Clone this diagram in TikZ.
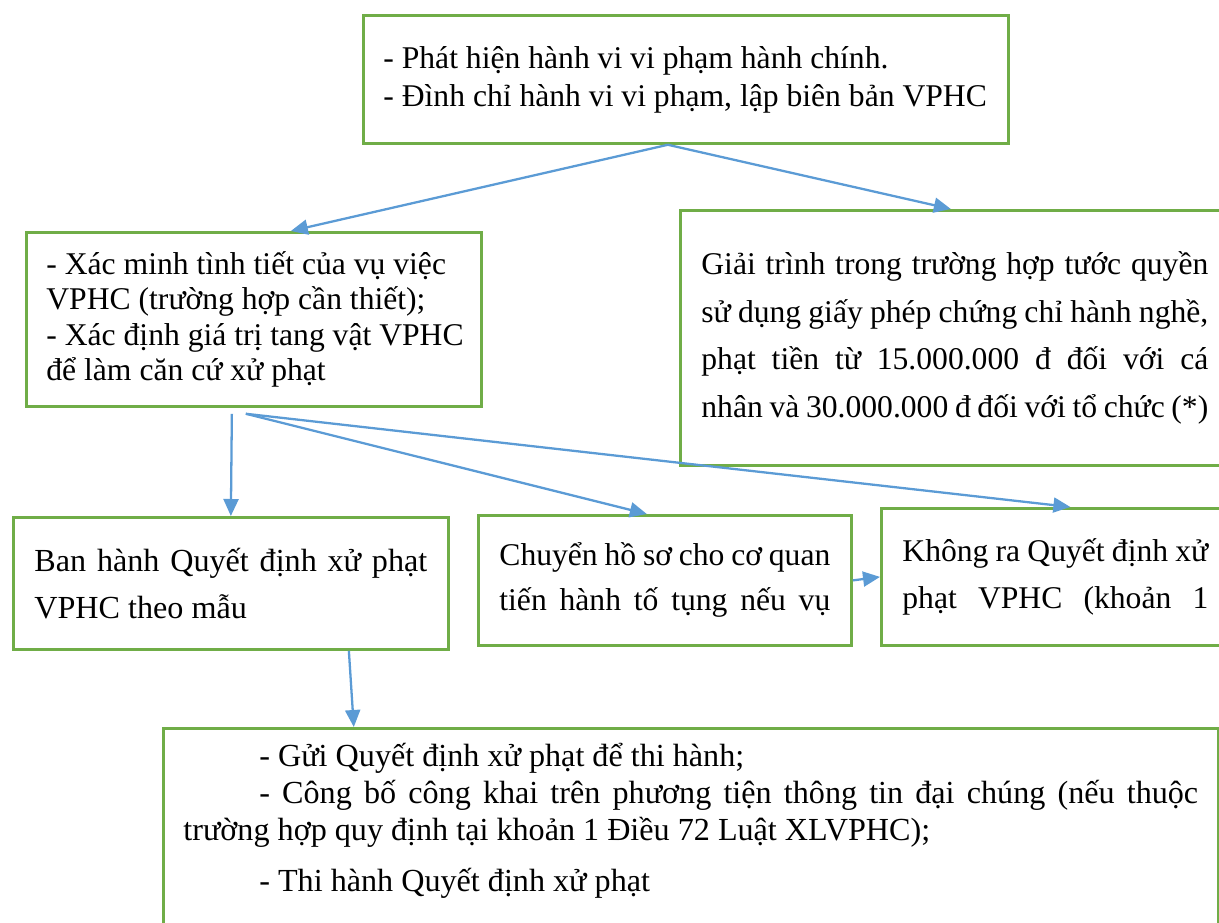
\documentclass[tikz,border=0pt]{standalone}
\usepackage{fontspec}
\setmainfont{Liberation Serif}
\usetikzlibrary{arrows.meta,calc}

\begin{document}
\begin{tikzpicture}[x=0.02cm,y=-0.02cm,
  box/.style={draw=boxgreen, line width=1.6pt, rectangle, inner ysep=0pt, anchor=north west},
  flow/.style={flowblue, line width=1.3pt, -{Triangle[length=3.4mm,width=3mm]}}]
\definecolor{boxgreen}{RGB}{112,173,71}
\definecolor{flowblue}{RGB}{91,155,213}

\useasboundingbox (0,0) rectangle (1219,922);
\clip (0,0) rectangle (1219,922);

% ======================= obere Reihe =======================
\node[box, inner xsep=0.4cm, text width=12.1cm, minimum width=12.9cm, minimum height=2.56cm,
      align=flush left, font=\fontsize{18}{21.6}\selectfont] (detect) at (362,14)
  {- Phát hiện hành vi vi phạm hành chính.\\
   - Đình chỉ hành vi vi phạm, lập biên bản VPHC};

% ======================= mittlere Reihe =======================
\node[box, inner xsep=0.4cm, text width=8.3cm, minimum width=9.1cm, minimum height=3.48cm,
      align=flush left, font=\fontsize{18}{20.2}\selectfont] (verify) at (25,231)
  {- Xác minh tình tiết của vụ việc\\
   VPHC (trường hợp cần thiết);\\
   \mbox{- Xác định giá trị tang vật VPHC}\\
   để làm căn cứ xử phạt};

\node[box, inner xsep=0.42cm, text width=10.14cm, minimum width=10.98cm, minimum height=5.1cm,
      align=justify, font=\fontsize{18}{27.1}\selectfont] (explain) at (679,209)
  {Giải trình trong trường hợp tước quyền\linebreak
   sử dụng giấy phép chứng chỉ hành nghề,\linebreak
   phạt tiền từ 15.000.000 đ đối với cá\linebreak
   nhân và 30.000.000 đ đối với tổ chức (*)};

% ======================= untere Reihe =======================
\node[box, inner xsep=0.42cm, text width=7.86cm, minimum width=8.7cm, minimum height=2.64cm,
      align=justify, font=\fontsize{18.3}{26.7}\selectfont] (penalty) at (12,516)
  {Ban hành Quyết định xử phạt\linebreak
   VPHC theo mẫu};

\node[box, inner xsep=0.42cm, text width=6.62cm, minimum width=7.46cm, minimum height=2.6cm,
      align=justify, font=\fontsize{18}{25.6}\selectfont] (transfer) at (477,514)
  {Chuyển hồ sơ cho cơ quan\linebreak
   tiến hành tố tụng nếu vụ\parfillskip=0pt\par};

\node[box, inner xsep=0.42cm, text width=6.12cm, minimum width=6.96cm, minimum height=2.74cm,
      align=justify, font=\fontsize{18}{26.7}\selectfont] (noDecision) at (880,507)
  {Không ra Quyết định xử\linebreak
   phạt VPHC (khoản 1\parfillskip=0pt\par};

% ======================= Abschluss =======================
\node[box, inner xsep=0.4cm, inner ysep=0.3cm, text width=20.3cm, minimum width=21.1cm,
      align=justify, font=\fontsize{18.3}{21.1}\selectfont] (execute) at (162,727)
  {\hspace*{1.52cm}- Gửi Quyết định xử phạt để thi hành;\par
   \hspace*{1.52cm}- Công bố công khai trên phương tiện thông tin đại chúng (nếu thuộc\linebreak
   trường hợp quy định tại khoản 1 Điều 72 Luật XLVPHC);\par\vspace{8pt}
   \hspace*{1.52cm}- Thi hành Quyết định xử phạt\rule[-100pt]{0pt}{0pt}};

% Pfeile
\draw[flow] ($(detect.south)+(-18,0)$) -- ($(verify.north)+(37,0)$);
\draw[flow] ($(detect.south)+(-18,0)$) -- ($(explain.north)+(-4,0)$);
\draw[flow] ($(verify.south)+(-22,6)$) -- (penalty.north);
\draw[flow] ($(verify.south)+(-8,6)$) -- ($(transfer.north)+(-18,0)$);
\draw[flow] ($(verify.south)+(-8,6)$) -- ($(noDecision.north)+(15,0)$);
\draw[flow] (transfer.east) -- (noDecision.west);
\draw[flow] ($(penalty.south)+(118,0)$) -- ($(execute.north)+(-337,0)$);

\end{tikzpicture}
\end{document}
